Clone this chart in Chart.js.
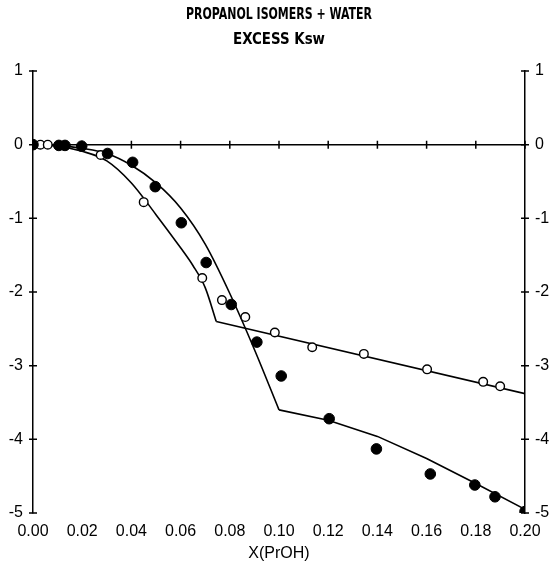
<!DOCTYPE html>
<html>
<head>
<meta charset="utf-8">
<title>Propanol isomers + water: excess Ksw</title>
<script src="https://cdn.jsdelivr.net/npm/chart.js@4.4.1/dist/chart.umd.min.js"></script>
<style>
  html, body { margin: 0; padding: 0; background: #fff; }
  #c { display: block; }
</style>
</head>
<body>
<canvas id="c" width="556" height="568"></canvas>
<script>
// ---- text ----
const titleLines = ['PROPANOL ISOMERS + WATER', 'EXCESS Ksw'];
const xAxisTitle = 'X(PrOH)';

// ---- axis ticks ----
const xTicks = [0, 0.02, 0.04, 0.06, 0.08, 0.10, 0.12, 0.14, 0.16, 0.18, 0.20];
const yTicks = [1, 0, -1, -2, -3, -4, -5];

// ---- measured points: solid circles ----
const solidX = [0, 0.0105, 0.013, 0.0198, 0.0303, 0.0405, 0.0497, 0.0603, 0.0704, 0.0806, 0.0910, 0.1009, 0.1204, 0.1396, 0.1615, 0.1796, 0.1878, 0.2000];
const solidY = [0, -0.01, -0.01, -0.02, -0.12, -0.24, -0.57, -1.06, -1.60, -2.17, -2.68, -3.14, -3.72, -4.13, -4.47, -4.62, -4.78, -4.98];

// ---- measured points: open circles ----
const hollowX = [0.003, 0.006, 0.0275, 0.0450, 0.0688, 0.0768, 0.0863, 0.0983, 0.1135, 0.1345, 0.1602, 0.1830, 0.1899];
const hollowY = [0, 0, -0.14, -0.78, -1.81, -2.11, -2.34, -2.55, -2.75, -2.84, -3.05, -3.22, -3.28];

// ---- fitted curves (smooth part, then straight tail after the break) ----
const solidCurveX = [0, 0.01, 0.02, 0.03, 0.04, 0.05, 0.06, 0.07, 0.08, 0.09, 0.10];
const solidCurveY = [0, -0.01, -0.05, -0.12, -0.28, -0.52, -0.86, -1.35, -2.02, -2.78, -3.60];
const solidTailX = [0.10, 0.12, 0.14, 0.16, 0.18, 0.20];
const solidTailY = [-3.60, -3.74, -3.96, -4.26, -4.60, -4.95];

const hollowCurveX = [0, 0.01, 0.02, 0.03, 0.04, 0.05, 0.06, 0.065, 0.07, 0.0745];
const hollowCurveY = [0, -0.02, -0.09, -0.22, -0.52, -0.95, -1.40, -1.64, -1.94, -2.40];
const hollowTailX = [0.0745, 0.20];
const hollowTailY = [-2.40, -3.38];

const pairs = (xs, ys) => xs.map((x, i) => ({ x: x, y: ys[i] }));

const condensed = "'Liberation Sans Narrow', 'DejaVu Sans Condensed', 'Liberation Sans', sans-serif";
const plain = "'Liberation Sans', Arial, sans-serif";

function curve(data, smooth) {
  return {
    type: 'line', data: data, borderColor: '#000', borderWidth: 1.6,
    pointRadius: 0, fill: false,
    cubicInterpolationMode: smooth ? 'monotone' : 'default', tension: 0,
    order: 2
  };
}

// short tick marks crossing both vertical axes and the zero line
const crossTicks = {
  id: 'crossTicks',
  beforeDatasetsDraw(chart) {
    const { ctx } = chart;
    const x = chart.scales.x, y = chart.scales.y;
    const y0 = y.getPixelForValue(0);
    ctx.save();
    ctx.strokeStyle = '#000';
    ctx.lineWidth = 1.5;
    ctx.beginPath();
    xTicks.forEach(v => {
      const px = x.getPixelForValue(v);
      ctx.moveTo(px, y0 - 4); ctx.lineTo(px, y0 + 4);
    });
    [x.getPixelForValue(xTicks[0]), x.getPixelForValue(xTicks[xTicks.length - 1])].forEach(ax => {
      yTicks.forEach(v => {
        const py = y.getPixelForValue(v);
        ctx.moveTo(ax - 4, py); ctx.lineTo(ax + 4, py);
      });
    });
    ctx.stroke();
    ctx.restore();
  }
};

// two-line heading in a tight, condensed face, centred over the plot area
const heading = {
  id: 'heading',
  afterDraw(chart) {
    const { ctx, chartArea } = chart;
    const cx = (chartArea.left + chartArea.right) / 2;
    const rows = [{ y: 15, w: 186 }, { y: 40, w: 92 }];
    ctx.save();
    ctx.fillStyle = '#000';
    ctx.font = 'bold 15px ' + condensed;
    ctx.textAlign = 'center';
    ctx.textBaseline = 'middle';
    titleLines.forEach((t, i) => ctx.fillText(t, cx, rows[i].y, rows[i].w));
    ctx.restore();
  }
};

new Chart(document.getElementById('c'), {
  data: {
    datasets: [
      curve(pairs(solidCurveX, solidCurveY), true),
      curve(pairs(solidTailX, solidTailY), false),
      curve(pairs(hollowCurveX, hollowCurveY), true),
      curve(pairs(hollowTailX, hollowTailY), false),
      {
        type: 'scatter', data: pairs(hollowX, hollowY),
        pointRadius: 4.3, pointBackgroundColor: '#fff', pointBorderColor: '#000', pointBorderWidth: 1.4,
        order: 1
      },
      {
        type: 'scatter', data: pairs(solidX, solidY),
        pointRadius: 5.3, pointBackgroundColor: '#000', pointBorderColor: '#000', pointBorderWidth: 1,
        order: 0
      }
    ]
  },
  options: {
    responsive: false,
    animation: false,
    devicePixelRatio: 1,
    layout: { padding: { top: 71, left: 0, right: 0, bottom: 0 } },
    plugins: {
      legend: { display: false },
      tooltip: { enabled: false },
      title: { display: false }
    },
    scales: {
      x: {
        type: 'linear', position: 'bottom', min: 0, max: 0.2,
        border: { display: false },
        grid: { display: false, drawTicks: false },
        afterBuildTicks: s => { s.ticks = xTicks.map(v => ({ value: v })); },
        afterFit: s => { s.height = 55; },
        ticks: {
          color: '#000', padding: 9, maxRotation: 0, autoSkip: false,
          font: { family: plain, size: 16 },
          callback: v => Number(v).toFixed(2)
        },
        title: {
          display: true, text: xAxisTitle, color: '#000',
          font: { family: plain, size: 16 }, padding: { top: 0, bottom: 5 }
        }
      },
      y: {
        type: 'linear', position: 'left', min: -5, max: 1,
        border: { display: true, color: '#000', width: 1.5 },
        grid: {
          display: true, drawTicks: false, lineWidth: 1.5,
          color: c => (c.tick && c.tick.value === 0) ? '#000' : 'rgba(0,0,0,0)'
        },
        afterBuildTicks: s => { s.ticks = yTicks.map(v => ({ value: v })); },
        afterFit: s => { s.width = 33; },
        ticks: { color: '#000', padding: 10, font: { family: plain, size: 16 } }
      },
      y2: {
        type: 'linear', position: 'right', min: -5, max: 1,
        border: { display: true, color: '#000', width: 1.5 },
        grid: { display: false, drawTicks: false },
        afterBuildTicks: s => { s.ticks = yTicks.map(v => ({ value: v })); },
        afterFit: s => { s.width = 31; },
        ticks: { color: '#000', padding: 10, font: { family: plain, size: 16 } }
      }
    }
  },
  plugins: [crossTicks, heading]
});
</script>
</body>
</html>
